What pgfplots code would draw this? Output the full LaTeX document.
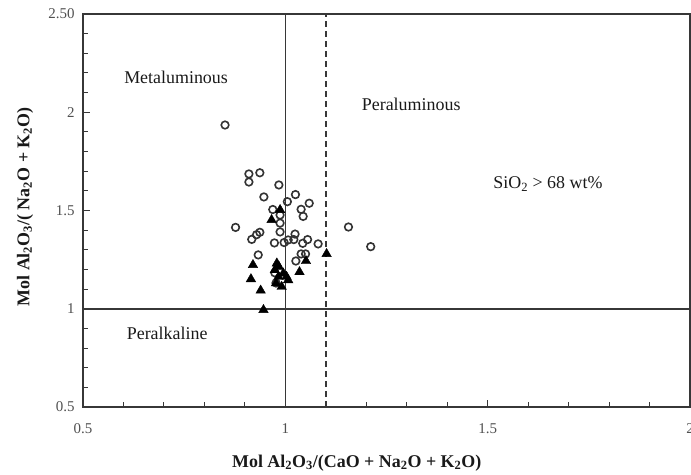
\documentclass[border=0pt]{standalone}
\usepackage{pgfplots}
\pgfplotsset{compat=1.18}
\usepackage{fontspec}
\setmainfont{Liberation Serif}
\definecolor{lgray}{RGB}{55,55,55}
\definecolor{tgray}{RGB}{80,80,80}
\begin{document}
\begin{tikzpicture}
\begin{axis}[
  scale only axis, width=607bp, height=393bp,
  xmin=0.5, xmax=2, ymin=0.5, ymax=2.5,
  axis line style={lgray, line width=1.3bp},
  xtick={0.5,1,1.5,2}, xticklabels={0.5,1,1.5,2},
  ytick={0.5,1,1.5,2,2.5}, yticklabels={0.5,1,1.5,2,2.50},
  minor x tick num=4, minor y tick num=4,
  tick align=inside, major tick length=7bp, minor tick length=5bp,
  tick style={lgray, line width=1bp},
  xtick pos=bottom, ytick pos=left,
  /pgf/number format/assume math mode=true,
  ticklabel style={font=\fontsize{15}{15}\selectfont, text=tgray},
  xticklabel style={yshift=-13bp},
  yticklabel style={xshift=-5bp},
  xlabel={\textbf{Mol Al\textsubscript{2}O\textsubscript{3}/(CaO + Na\textsubscript{2}O + K\textsubscript{2}O)}},
  ylabel={\textbf{Mol Al\textsubscript{2}O\textsubscript{3}/( Na\textsubscript{2}O + K\textsubscript{2}O)}},
  xlabel style={at={(axis description cs:0.451,-0.1425)}, anchor=center, font=\fontsize{18}{18}\selectfont, text=black!90},
  ylabel style={at={(axis description cs:-0.0955,0.509)}, anchor=center, font=\fontsize{18}{18}\selectfont, text=black!90},
  clip=false,
]
% boundary lines
\addplot[lgray, line width=1.6bp] coordinates {(1,0.5) (1,2.5)};
\addplot[lgray, line width=1.6bp, dash pattern=on 6bp off 4bp] coordinates {(1.1,0.5) (1.1,2.5)};
\addplot[lgray, line width=1.6bp] coordinates {(0.5,1) (2,1)};
% circles
\addplot[only marks, mark=o, mark size=3.8bp, mark options={draw=black!80, line width=1.6bp}] coordinates {
(0.851,1.935) (0.910,1.686) (0.910,1.645) (0.937,1.692) (0.984,1.630)
(0.947,1.569) (1.025,1.581) (1.005,1.545) (0.969,1.505) (1.039,1.506)
(1.059,1.537) (1.044,1.470) (0.987,1.477) (0.987,1.436) (0.877,1.414)
(1.156,1.416) (0.917,1.353) (0.929,1.377) (0.937,1.389) (0.987,1.391)
(0.973,1.335) (0.997,1.337) (1.007,1.350) (1.024,1.380) (1.021,1.352)
(1.055,1.352) (1.043,1.333) (1.081,1.330) (1.211,1.316) (0.933,1.274)
(1.039,1.279) (1.050,1.279) (1.026,1.243) (0.974,1.183) (0.977,1.131)
};
% triangles
\addplot[only marks, mark=triangle*, mark size=5.5bp, mark options={fill=black, draw=black}] coordinates {
(0.966,1.452) (0.987,1.503) (1.102,1.279) (0.920,1.223) (0.915,1.151)
(0.939,1.093) (0.946,0.994) (0.979,1.231) (0.974,1.197) (0.983,1.163)
(0.995,1.180) (1.003,1.163) (0.977,1.130) (0.991,1.112) (1.051,1.243)
(1.035,1.187) (1.007,1.146) (0.984,1.214)
};
\node[font=\fontsize{18}{18}\selectfont, text=black!90] at (axis cs:0.730,2.179) {Metaluminous};
\node[font=\fontsize{18}{18}\selectfont, text=black!90] at (axis cs:1.311,2.042) {Peraluminous};
\node[font=\fontsize{18}{18}\selectfont, text=black!90] at (axis cs:1.649,1.635) {SiO\textsubscript{2} > 68 wt\%};
\node[font=\fontsize{18}{18}\selectfont, text=black!90] at (axis cs:0.708,0.877) {Peralkaline};
\end{axis}
\pgfresetboundingbox
\path[use as bounding box] (-83bp,-68bp) rectangle (608bp,407bp);
\end{tikzpicture}
\end{document}
